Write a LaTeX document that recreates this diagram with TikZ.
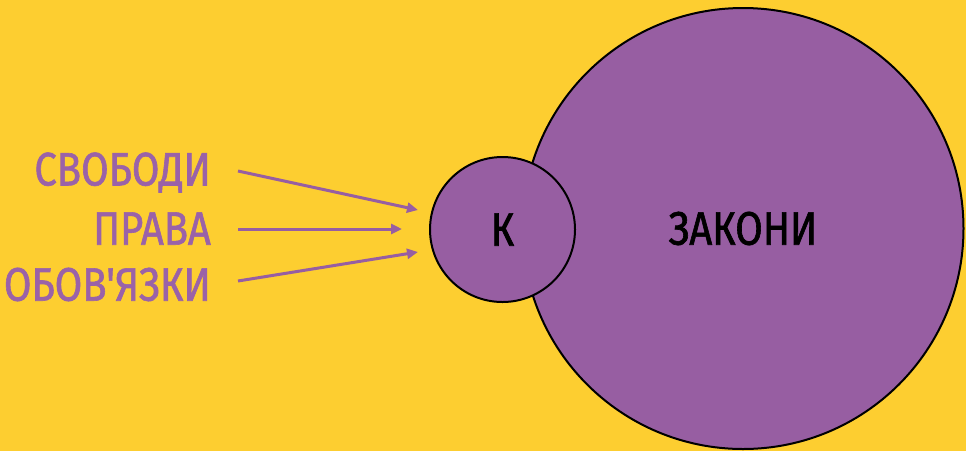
\documentclass[tikz,border=0pt]{standalone}
\usepackage{fontspec}
\newfontfamily\cond[FakeStretch=0.85,FakeBold=1.3]{Fira Sans}
\definecolor{bgyellow}{HTML}{FDCE30}
\definecolor{purp}{HTML}{975EA2}
\definecolor{txtpurp}{HTML}{9A62A8}
\begin{document}
\begin{tikzpicture}[x=1pt,y=-1pt,
  lbl/.style={anchor=east,inner sep=0pt,text=txtpurp,font=\cond\fontsize{47}{47}\selectfont},
  ctext/.style={text=black,font=\cond\fontsize{47}{47}\selectfont},
  arr/.style={draw=purp,line width=3pt,-{Triangle[length=11pt,width=10pt]}},
  circ/.style={circle,draw=black,line width=2pt,fill=purp,inner sep=0pt}]
\usetikzlibrary{arrows.meta}
\fill[bgyellow] (0,0) rectangle (966,451);
\useasboundingbox (0,0) rectangle (966,451);
\node[circ,minimum size=441pt] (zak) at (743,228.5) {};
\node[ctext] (zt) at (743,228.5) {ЗАКОНИ};
\node[circ,minimum size=145pt] (k) at (502.5,229.5) {};
\node[ctext] (kt) at (502.5,229.5) {К};
\node[lbl] (svo) at (211,172.5) {СВОБОДИ};
\node[lbl] (pra) at (211,228.5) {ПРАВА};
\node[lbl] (obo) at (211,284.5) {ОБОВ'ЯЗКИ};
\coordinate (s1) at (238,171);
\coordinate (e1) at (418,210);
\coordinate (s2) at (238,229);
\coordinate (e2) at (402,229);
\coordinate (s3) at (238,281);
\coordinate (e3) at (418,252);
\draw[arr] (s1) -- (e1);
\draw[arr] (s2) -- (e2);
\draw[arr] (s3) -- (e3);
\end{tikzpicture}
\end{document}
